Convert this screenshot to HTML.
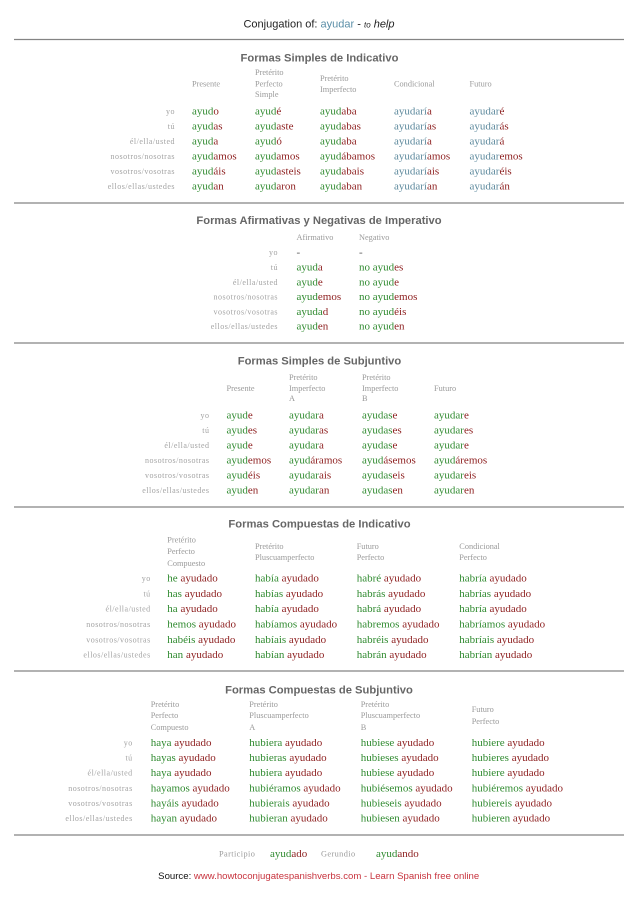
<!DOCTYPE html>
<html><head><meta charset="utf-8">
<style>
html,body{margin:0;padding:0;background:#fff;}
svg{display:block;}
.d{font-family:"Liberation Serif",serif;font-size:11px;}
.g{fill:#2f8a2f;}
.r{fill:#8c1d1d;}
.b{fill:#5b889c;}
.l{font-family:"Liberation Serif",serif;font-size:8px;fill:#a3a3a3;text-anchor:end;letter-spacing:0.5px;}
.h{font-family:"Liberation Serif",serif;font-size:8.3px;fill:#9a9a9a;}
.t{font-family:"Liberation Sans",sans-serif;font-weight:bold;font-size:11.2px;fill:#666;text-anchor:middle;}
.ln{stroke:#848484;stroke-width:1.2;}
</style></head>
<body>
<svg width="638" height="903" viewBox="0 0 638 903" xmlns="http://www.w3.org/2000/svg">
<!-- Title -->
<text x="319" y="27.5" text-anchor="middle" style="font-family:'Liberation Sans',sans-serif;font-size:11px;fill:#222;">Conjugation of: <tspan fill="#5b8fa8">ayudar</tspan> - <tspan font-style="italic" font-size="8px">to</tspan><tspan font-style="italic"> help</tspan></text>
<line class="ln" x1="14" y1="39.5" x2="624" y2="39.5"/>

<!-- Section 1 -->
<text class="t" x="319.5" y="61.5">Formas Simples de Indicativo</text>
<text class="h" x="192" y="86.5">Presente</text>
<text class="h" x="255" y="75.2">Pretérito</text>
<text class="h" x="255" y="86.5">Perfecto</text>
<text class="h" x="255" y="97.2">Simple</text>
<text class="h" x="320" y="80.8">Pretérito</text>
<text class="h" x="320" y="92.2">Imperfecto</text>
<text class="h" x="394" y="86.5">Condicional</text>
<text class="h" x="469.5" y="86.5">Futuro</text>

<text class="l" x="175" y="114">yo</text>
<text class="l" x="175" y="129">tú</text>
<text class="l" x="175" y="144">él/ella/usted</text>
<text class="l" x="175" y="159">nosotros/nosotras</text>
<text class="l" x="175" y="174">vosotros/vosotras</text>
<text class="l" x="175" y="189">ellos/ellas/ustedes</text>

<text class="d" x="192" y="114.5"><tspan class="g">ayud</tspan><tspan class="r">o</tspan></text>
<text class="d" x="192" y="129.5"><tspan class="g">ayud</tspan><tspan class="r">as</tspan></text>
<text class="d" x="192" y="144.5"><tspan class="g">ayud</tspan><tspan class="r">a</tspan></text>
<text class="d" x="192" y="159.5"><tspan class="g">ayud</tspan><tspan class="r">amos</tspan></text>
<text class="d" x="192" y="174.5"><tspan class="g">ayud</tspan><tspan class="r">áis</tspan></text>
<text class="d" x="192" y="189.5"><tspan class="g">ayud</tspan><tspan class="r">an</tspan></text>

<text class="d" x="255" y="114.5"><tspan class="g">ayud</tspan><tspan class="r">é</tspan></text>
<text class="d" x="255" y="129.5"><tspan class="g">ayud</tspan><tspan class="r">aste</tspan></text>
<text class="d" x="255" y="144.5"><tspan class="g">ayud</tspan><tspan class="r">ó</tspan></text>
<text class="d" x="255" y="159.5"><tspan class="g">ayud</tspan><tspan class="r">amos</tspan></text>
<text class="d" x="255" y="174.5"><tspan class="g">ayud</tspan><tspan class="r">asteis</tspan></text>
<text class="d" x="255" y="189.5"><tspan class="g">ayud</tspan><tspan class="r">aron</tspan></text>

<text class="d" x="320" y="114.5"><tspan class="g">ayud</tspan><tspan class="r">aba</tspan></text>
<text class="d" x="320" y="129.5"><tspan class="g">ayud</tspan><tspan class="r">abas</tspan></text>
<text class="d" x="320" y="144.5"><tspan class="g">ayud</tspan><tspan class="r">aba</tspan></text>
<text class="d" x="320" y="159.5"><tspan class="g">ayud</tspan><tspan class="r">ábamos</tspan></text>
<text class="d" x="320" y="174.5"><tspan class="g">ayud</tspan><tspan class="r">abais</tspan></text>
<text class="d" x="320" y="189.5"><tspan class="g">ayud</tspan><tspan class="r">aban</tspan></text>

<text class="d" x="394" y="114.5"><tspan class="b">ayudarí</tspan><tspan class="r">a</tspan></text>
<text class="d" x="394" y="129.5"><tspan class="b">ayudarí</tspan><tspan class="r">as</tspan></text>
<text class="d" x="394" y="144.5"><tspan class="b">ayudarí</tspan><tspan class="r">a</tspan></text>
<text class="d" x="394" y="159.5"><tspan class="b">ayudarí</tspan><tspan class="r">amos</tspan></text>
<text class="d" x="394" y="174.5"><tspan class="b">ayudarí</tspan><tspan class="r">ais</tspan></text>
<text class="d" x="394" y="189.5"><tspan class="b">ayudarí</tspan><tspan class="r">an</tspan></text>

<text class="d" x="469.5" y="114.5"><tspan class="b">ayudar</tspan><tspan class="r">é</tspan></text>
<text class="d" x="469.5" y="129.5"><tspan class="b">ayudar</tspan><tspan class="r">ás</tspan></text>
<text class="d" x="469.5" y="144.5"><tspan class="b">ayudar</tspan><tspan class="r">á</tspan></text>
<text class="d" x="469.5" y="159.5"><tspan class="b">ayudar</tspan><tspan class="r">emos</tspan></text>
<text class="d" x="469.5" y="174.5"><tspan class="b">ayudar</tspan><tspan class="r">éis</tspan></text>
<text class="d" x="469.5" y="189.5"><tspan class="b">ayudar</tspan><tspan class="r">án</tspan></text>

<line class="ln" x1="14" y1="203" x2="624" y2="203"/>

<!-- Section 2 -->
<text class="t" x="319" y="224">Formas Afirmativas y Negativas de Imperativo</text>
<text class="h" x="296.5" y="239.8">Afirmativo</text>
<text class="h" x="359" y="239.8">Negativo</text>

<text class="l" x="278" y="255.2">yo</text>
<text class="l" x="278" y="270">tú</text>
<text class="l" x="278" y="284.8">él/ella/usted</text>
<text class="l" x="278" y="299.6">nosotros/nosotras</text>
<text class="l" x="278" y="314.4">vosotros/vosotras</text>
<text class="l" x="278" y="329.2">ellos/ellas/ustedes</text>

<text class="d" x="296.5" y="255.7" fill="#555">-</text>
<text class="d" x="296.5" y="270.5"><tspan class="g">ayud</tspan><tspan class="r">a</tspan></text>
<text class="d" x="296.5" y="285.3"><tspan class="g">ayud</tspan><tspan class="r">e</tspan></text>
<text class="d" x="296.5" y="300.1"><tspan class="g">ayud</tspan><tspan class="r">emos</tspan></text>
<text class="d" x="296.5" y="314.9"><tspan class="g">ayuda</tspan><tspan class="r">d</tspan></text>
<text class="d" x="296.5" y="329.7"><tspan class="g">ayud</tspan><tspan class="r">en</tspan></text>

<text class="d" x="359" y="255.7" fill="#555">-</text>
<text class="d" x="359" y="270.5"><tspan class="g">no ayud</tspan><tspan class="r">es</tspan></text>
<text class="d" x="359" y="285.3"><tspan class="g">no ayud</tspan><tspan class="r">e</tspan></text>
<text class="d" x="359" y="300.1"><tspan class="g">no ayud</tspan><tspan class="r">emos</tspan></text>
<text class="d" x="359" y="314.9"><tspan class="g">no ayud</tspan><tspan class="r">éis</tspan></text>
<text class="d" x="359" y="329.7"><tspan class="g">no ayud</tspan><tspan class="r">en</tspan></text>

<line class="ln" x1="14" y1="343" x2="624" y2="343"/>

<!-- Section 3 -->
<text class="t" x="319.5" y="364.5">Formas Simples de Subjuntivo</text>
<text class="h" x="226.5" y="390.8">Presente</text>
<text class="h" x="289" y="380.2">Pretérito</text>
<text class="h" x="289" y="390.8">Imperfecto</text>
<text class="h" x="289" y="400.8">A</text>
<text class="h" x="362" y="380.2">Pretérito</text>
<text class="h" x="362" y="390.8">Imperfecto</text>
<text class="h" x="362" y="400.8">B</text>
<text class="h" x="434" y="390.8">Futuro</text>

<text class="l" x="209.5" y="418.2">yo</text>
<text class="l" x="209.5" y="433.2">tú</text>
<text class="l" x="209.5" y="448.2">él/ella/usted</text>
<text class="l" x="209.5" y="463.2">nosotros/nosotras</text>
<text class="l" x="209.5" y="478.2">vosotros/vosotras</text>
<text class="l" x="209.5" y="493.2">ellos/ellas/ustedes</text>

<text class="d" x="226.5" y="418.7"><tspan class="g">ayud</tspan><tspan class="r">e</tspan></text>
<text class="d" x="226.5" y="433.7"><tspan class="g">ayud</tspan><tspan class="r">es</tspan></text>
<text class="d" x="226.5" y="448.7"><tspan class="g">ayud</tspan><tspan class="r">e</tspan></text>
<text class="d" x="226.5" y="463.7"><tspan class="g">ayud</tspan><tspan class="r">emos</tspan></text>
<text class="d" x="226.5" y="478.7"><tspan class="g">ayud</tspan><tspan class="r">éis</tspan></text>
<text class="d" x="226.5" y="493.7"><tspan class="g">ayud</tspan><tspan class="r">en</tspan></text>

<text class="d" x="289" y="418.7"><tspan class="g">ayudar</tspan><tspan class="r">a</tspan></text>
<text class="d" x="289" y="433.7"><tspan class="g">ayudar</tspan><tspan class="r">as</tspan></text>
<text class="d" x="289" y="448.7"><tspan class="g">ayudar</tspan><tspan class="r">a</tspan></text>
<text class="d" x="289" y="463.7"><tspan class="g">ayud</tspan><tspan class="r">áramos</tspan></text>
<text class="d" x="289" y="478.7"><tspan class="g">ayudar</tspan><tspan class="r">ais</tspan></text>
<text class="d" x="289" y="493.7"><tspan class="g">ayudar</tspan><tspan class="r">an</tspan></text>

<text class="d" x="362" y="418.7"><tspan class="g">ayudas</tspan><tspan class="r">e</tspan></text>
<text class="d" x="362" y="433.7"><tspan class="g">ayudas</tspan><tspan class="r">es</tspan></text>
<text class="d" x="362" y="448.7"><tspan class="g">ayudas</tspan><tspan class="r">e</tspan></text>
<text class="d" x="362" y="463.7"><tspan class="g">ayud</tspan><tspan class="r">ásemos</tspan></text>
<text class="d" x="362" y="478.7"><tspan class="g">ayudas</tspan><tspan class="r">eis</tspan></text>
<text class="d" x="362" y="493.7"><tspan class="g">ayudas</tspan><tspan class="r">en</tspan></text>

<text class="d" x="434" y="418.7"><tspan class="g">ayudar</tspan><tspan class="r">e</tspan></text>
<text class="d" x="434" y="433.7"><tspan class="g">ayudar</tspan><tspan class="r">es</tspan></text>
<text class="d" x="434" y="448.7"><tspan class="g">ayudar</tspan><tspan class="r">e</tspan></text>
<text class="d" x="434" y="463.7"><tspan class="g">ayud</tspan><tspan class="r">áremos</tspan></text>
<text class="d" x="434" y="478.7"><tspan class="g">ayudar</tspan><tspan class="r">eis</tspan></text>
<text class="d" x="434" y="493.7"><tspan class="g">ayudar</tspan><tspan class="r">en</tspan></text>

<line class="ln" x1="14" y1="507" x2="624" y2="507"/>

<!-- Section 4 -->
<text class="t" x="319.5" y="527.5">Formas Compuestas de Indicativo</text>
<text class="h" x="167.3" y="542.5">Pretérito</text>
<text class="h" x="167.3" y="554.2">Perfecto</text>
<text class="h" x="167.3" y="565.8">Compuesto</text>
<text class="h" x="255" y="549.2">Pretérito</text>
<text class="h" x="255" y="560.2">Pluscuamperfecto</text>
<text class="h" x="356.7" y="549.2">Futuro</text>
<text class="h" x="356.7" y="560.2">Perfecto</text>
<text class="h" x="459.3" y="549.2">Condicional</text>
<text class="h" x="459.3" y="560.2">Perfecto</text>

<text class="l" x="150.7" y="581">yo</text>
<text class="l" x="150.7" y="596.3">tú</text>
<text class="l" x="150.7" y="611.6">él/ella/usted</text>
<text class="l" x="150.7" y="627">nosotros/nosotras</text>
<text class="l" x="150.7" y="642.3">vosotros/vosotras</text>
<text class="l" x="150.7" y="657.6">ellos/ellas/ustedes</text>

<text class="d" x="167.3" y="581.5"><tspan class="g">he</tspan> <tspan class="r">ayudado</tspan></text>
<text class="d" x="167.3" y="596.8"><tspan class="g">has</tspan> <tspan class="r">ayudado</tspan></text>
<text class="d" x="167.3" y="612.1"><tspan class="g">ha</tspan> <tspan class="r">ayudado</tspan></text>
<text class="d" x="167.3" y="627.5"><tspan class="g">hemos</tspan> <tspan class="r">ayudado</tspan></text>
<text class="d" x="167.3" y="642.8"><tspan class="g">habéis</tspan> <tspan class="r">ayudado</tspan></text>
<text class="d" x="167.3" y="658.1"><tspan class="g">han</tspan> <tspan class="r">ayudado</tspan></text>

<text class="d" x="255" y="581.5"><tspan class="g">había</tspan> <tspan class="r">ayudado</tspan></text>
<text class="d" x="255" y="596.8"><tspan class="g">habías</tspan> <tspan class="r">ayudado</tspan></text>
<text class="d" x="255" y="612.1"><tspan class="g">había</tspan> <tspan class="r">ayudado</tspan></text>
<text class="d" x="255" y="627.5"><tspan class="g">habíamos</tspan> <tspan class="r">ayudado</tspan></text>
<text class="d" x="255" y="642.8"><tspan class="g">habíais</tspan> <tspan class="r">ayudado</tspan></text>
<text class="d" x="255" y="658.1"><tspan class="g">habían</tspan> <tspan class="r">ayudado</tspan></text>

<text class="d" x="356.7" y="581.5"><tspan class="g">habré</tspan> <tspan class="r">ayudado</tspan></text>
<text class="d" x="356.7" y="596.8"><tspan class="g">habrás</tspan> <tspan class="r">ayudado</tspan></text>
<text class="d" x="356.7" y="612.1"><tspan class="g">habrá</tspan> <tspan class="r">ayudado</tspan></text>
<text class="d" x="356.7" y="627.5"><tspan class="g">habremos</tspan> <tspan class="r">ayudado</tspan></text>
<text class="d" x="356.7" y="642.8"><tspan class="g">habréis</tspan> <tspan class="r">ayudado</tspan></text>
<text class="d" x="356.7" y="658.1"><tspan class="g">habrán</tspan> <tspan class="r">ayudado</tspan></text>

<text class="d" x="459.3" y="581.5"><tspan class="g">habría</tspan> <tspan class="r">ayudado</tspan></text>
<text class="d" x="459.3" y="596.8"><tspan class="g">habrías</tspan> <tspan class="r">ayudado</tspan></text>
<text class="d" x="459.3" y="612.1"><tspan class="g">habría</tspan> <tspan class="r">ayudado</tspan></text>
<text class="d" x="459.3" y="627.5"><tspan class="g">habríamos</tspan> <tspan class="r">ayudado</tspan></text>
<text class="d" x="459.3" y="642.8"><tspan class="g">habríais</tspan> <tspan class="r">ayudado</tspan></text>
<text class="d" x="459.3" y="658.1"><tspan class="g">habrían</tspan> <tspan class="r">ayudado</tspan></text>

<line class="ln" x1="14" y1="671" x2="624" y2="671"/>

<!-- Section 5 -->
<text class="t" x="319" y="693.5">Formas Compuestas de Subjuntivo</text>
<text class="h" x="150.7" y="706.8">Pretérito</text>
<text class="h" x="150.7" y="718.2">Perfecto</text>
<text class="h" x="150.7" y="729.8">Compuesto</text>
<text class="h" x="249.3" y="706.8">Pretérito</text>
<text class="h" x="249.3" y="718.2">Pluscuamperfecto</text>
<text class="h" x="249.3" y="729.8">A</text>
<text class="h" x="360.7" y="706.8">Pretérito</text>
<text class="h" x="360.7" y="718.2">Pluscuamperfecto</text>
<text class="h" x="360.7" y="729.8">B</text>
<text class="h" x="471.7" y="712.2">Futuro</text>
<text class="h" x="471.7" y="724.2">Perfecto</text>

<text class="l" x="132.7" y="745.4">yo</text>
<text class="l" x="132.7" y="760.5">tú</text>
<text class="l" x="132.7" y="775.7">él/ella/usted</text>
<text class="l" x="132.7" y="790.8">nosotros/nosotras</text>
<text class="l" x="132.7" y="805.9">vosotros/vosotras</text>
<text class="l" x="132.7" y="821">ellos/ellas/ustedes</text>

<text class="d" x="150.7" y="745.9"><tspan class="g">haya</tspan> <tspan class="r">ayudado</tspan></text>
<text class="d" x="150.7" y="761"><tspan class="g">hayas</tspan> <tspan class="r">ayudado</tspan></text>
<text class="d" x="150.7" y="776.2"><tspan class="g">haya</tspan> <tspan class="r">ayudado</tspan></text>
<text class="d" x="150.7" y="791.3"><tspan class="g">hayamos</tspan> <tspan class="r">ayudado</tspan></text>
<text class="d" x="150.7" y="806.4"><tspan class="g">hayáis</tspan> <tspan class="r">ayudado</tspan></text>
<text class="d" x="150.7" y="821.5"><tspan class="g">hayan</tspan> <tspan class="r">ayudado</tspan></text>

<text class="d" x="249.3" y="745.9"><tspan class="g">hubiera</tspan> <tspan class="r">ayudado</tspan></text>
<text class="d" x="249.3" y="761"><tspan class="g">hubieras</tspan> <tspan class="r">ayudado</tspan></text>
<text class="d" x="249.3" y="776.2"><tspan class="g">hubiera</tspan> <tspan class="r">ayudado</tspan></text>
<text class="d" x="249.3" y="791.3"><tspan class="g">hubiéramos</tspan> <tspan class="r">ayudado</tspan></text>
<text class="d" x="249.3" y="806.4"><tspan class="g">hubierais</tspan> <tspan class="r">ayudado</tspan></text>
<text class="d" x="249.3" y="821.5"><tspan class="g">hubieran</tspan> <tspan class="r">ayudado</tspan></text>

<text class="d" x="360.7" y="745.9"><tspan class="g">hubiese</tspan> <tspan class="r">ayudado</tspan></text>
<text class="d" x="360.7" y="761"><tspan class="g">hubieses</tspan> <tspan class="r">ayudado</tspan></text>
<text class="d" x="360.7" y="776.2"><tspan class="g">hubiese</tspan> <tspan class="r">ayudado</tspan></text>
<text class="d" x="360.7" y="791.3"><tspan class="g">hubiésemos</tspan> <tspan class="r">ayudado</tspan></text>
<text class="d" x="360.7" y="806.4"><tspan class="g">hubieseis</tspan> <tspan class="r">ayudado</tspan></text>
<text class="d" x="360.7" y="821.5"><tspan class="g">hubiesen</tspan> <tspan class="r">ayudado</tspan></text>

<text class="d" x="471.7" y="745.9"><tspan class="g">hubiere</tspan> <tspan class="r">ayudado</tspan></text>
<text class="d" x="471.7" y="761"><tspan class="g">hubieres</tspan> <tspan class="r">ayudado</tspan></text>
<text class="d" x="471.7" y="776.2"><tspan class="g">hubiere</tspan> <tspan class="r">ayudado</tspan></text>
<text class="d" x="471.7" y="791.3"><tspan class="g">hubiéremos</tspan> <tspan class="r">ayudado</tspan></text>
<text class="d" x="471.7" y="806.4"><tspan class="g">hubiereis</tspan> <tspan class="r">ayudado</tspan></text>
<text class="d" x="471.7" y="821.5"><tspan class="g">hubieren</tspan> <tspan class="r">ayudado</tspan></text>

<line class="ln" x1="14" y1="835" x2="624" y2="835"/>

<!-- Participio / Gerundio -->
<text class="h" x="219" y="856.5" style="letter-spacing:0.4px">Participio</text>
<text class="d" x="270" y="857"><tspan class="g">ayud</tspan><tspan class="r">ado</tspan></text>
<text class="h" x="321" y="856.5" style="letter-spacing:0.4px">Gerundio</text>
<text class="d" x="376" y="857"><tspan class="g">ayud</tspan><tspan class="r">ando</tspan></text>

<!-- Source -->
<text x="318.7" y="879" text-anchor="middle" style="font-family:'Liberation Sans',sans-serif;font-size:9.6px;fill:#111;">Source: <tspan fill="#c8343e">www.howtoconjugatespanishverbs.com - Learn Spanish free online</tspan></text>
</svg>
</body></html>
